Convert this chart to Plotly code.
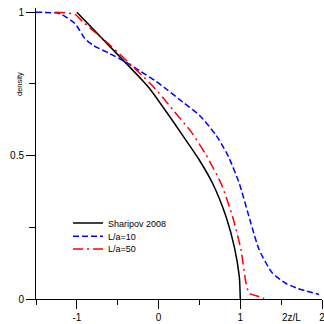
import plotly.graph_objects as go

# Sharipov 2008
x_sh = [-1.0, -0.6, -0.199, -0.110, 0.195, 0.418, 0.5, 0.662, 0.826, 0.927, 0.988, 1.0]
y_sh = [1.0, 0.882, 0.763, 0.734, 0.612, 0.519, 0.484, 0.403, 0.287, 0.182, 0.078, 0.0]

# L/a=10
x_10 = [-1.5, -1.207, -1.024, -0.902, -0.801, -0.598, -0.394, -0.211, -0.049, 0.113, 0.296,
        0.5, 0.704, 0.826, 0.866, 0.988, 1.130, 1.232, 1.394, 1.557, 1.699, 1.963]
y_10 = [1.0, 0.995, 0.961, 0.908, 0.885, 0.856, 0.825, 0.792, 0.763, 0.728, 0.687,
        0.641, 0.571, 0.513, 0.490, 0.403, 0.264, 0.171, 0.090, 0.055, 0.037, 0.016]

# L/a=50
x_50 = [-1.268, -1.024, -0.923, -0.760, -0.598, -0.354, -0.110, 0.052, 0.195, 0.399, 0.582,
        0.765, 0.906, 1.009, 1.070, 1.110, 1.232, 1.293]
y_50 = [1.0, 0.993, 0.966, 0.926, 0.887, 0.821, 0.754, 0.703, 0.653, 0.583, 0.502,
        0.403, 0.287, 0.171, 0.055, 0.020, 0.008, 0.002]

x_ticks = [-1, 0, 1, 2]
x_ticklabels = ["-1", "0", "1", "2"]
y_ticks = [0, 0.5, 1]
y_ticklabels = ["0", "0.5", "1"]

FONT = "Liberation Sans, Arial, sans-serif"

fig = go.Figure()
fig.add_trace(go.Scatter(x=x_sh, y=y_sh, mode="lines", name="Sharipov 2008", legend="legend",
                         line=dict(color="black", width=1.5, shape="spline", smoothing=0.6)))
fig.add_trace(go.Scatter(x=x_10, y=y_10, mode="lines", name="L/a=10", legend="legend2",
                         line=dict(color="#0000ff", width=1.5, dash="6px,3px", shape="spline", smoothing=0.6)))
fig.add_trace(go.Scatter(x=x_50, y=y_50, mode="lines", name="L/a=50", legend="legend3",
                         line=dict(color="#ff0000", width=1.5, dash="10px,4px,2px,4px", shape="spline", smoothing=0.6)))

def leg(y):
    return dict(x=0.112, y=y, xanchor="left", yanchor="middle",
                bgcolor="rgba(0,0,0,0)", font=dict(size=9, family=FONT, color="black"),
                borderwidth=0)

fig.update_layout(
    width=324, height=324,
    margin=dict(l=36, r=2, t=8, b=25),
    paper_bgcolor="white", plot_bgcolor="white",
    font=dict(family=FONT, size=10, color="black"),
    showlegend=True,
    legend=leg(0.261), legend2=leg(0.216), legend3=leg(0.172),
    xaxis=dict(range=[-1.5, 2.0], tickmode="array", tickvals=x_ticks, ticktext=x_ticklabels,
               ticks="outside", ticklen=9, tickwidth=1,
               tickcolor="black", showline=True, linecolor="black", linewidth=1,
               showgrid=False, zeroline=False, automargin=False, ticklabeloverflow="allow",
               minor=dict(tickvals=[-1.5, -0.5, 0.5, 1.5], ticks="outside", ticklen=5,
                          tickcolor="black", tickwidth=1, showgrid=False)),
    yaxis=dict(range=[0, 1.015], tickvals=y_ticks, ticktext=y_ticklabels, ticks="outside",
               ticklen=9, tickwidth=1, tickcolor="black", showline=True, linecolor="black",
               linewidth=1, showgrid=False, zeroline=False, automargin=False,
               ticklabeloverflow="allow",
               minor=dict(tickvals=[0.25, 0.75], ticks="outside", ticklen=6,
                          tickcolor="black", tickwidth=1, showgrid=False)),
)

fig.add_annotation(text="density", xref="paper", yref="y", x=0, y=0.75, xshift=-16,
                   textangle=-90, showarrow=False, xanchor="center", yanchor="middle",
                   font=dict(size=7.5, family=FONT))
fig.add_annotation(text="2z/L", xref="x", yref="paper", x=1.63, y=0, yshift=-18,
                   showarrow=False, xanchor="center", yanchor="middle",
                   font=dict(size=10, family=FONT))

fig.write_html(
    "out.html",
    config={"displayModeBar": False},
    post_script=(
        "document.body.style.margin='0px';"
        "document.body.style.overflow='hidden';"
        "document.documentElement.style.overflow='hidden';"
    ),
)
